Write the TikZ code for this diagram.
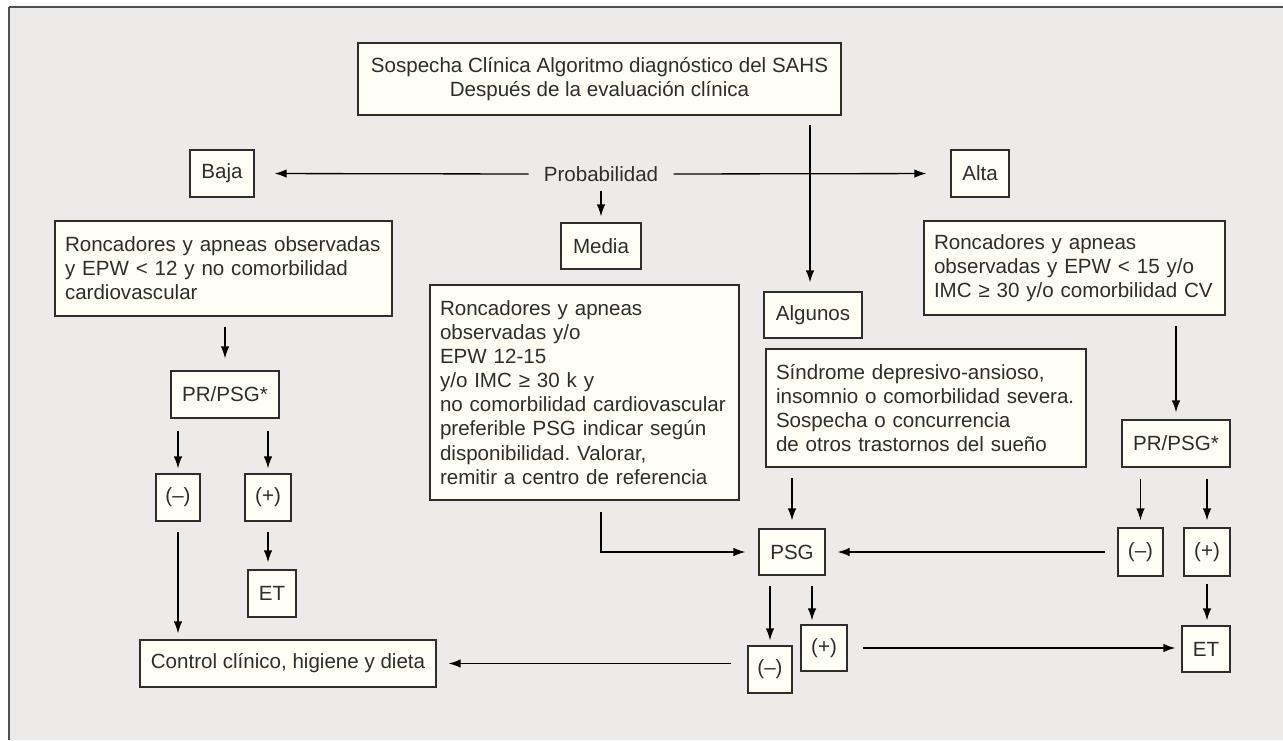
\documentclass[tikz,border=0pt]{standalone}
\usepackage{fontspec}
\setmainfont{Liberation Sans}
\usetikzlibrary{arrows.meta,calc}
\definecolor{panelgrey}{RGB}{236,235,234}
\definecolor{boxcream}{RGB}{255,255,245}
\definecolor{inkgrey}{RGB}{45,45,45}
\definecolor{framegrey}{RGB}{80,80,80}
\tikzset{
  box/.style={draw=inkgrey, fill=boxcream, line width=0.7pt, inner xsep=0.15cm, inner ysep=0cm, text=inkgrey, align=center},
  textbox/.style={box, inner xsep=0.2cm, align=left},
  link/.style={-{Latex[length=0.24cm,width=0.17cm]}, line width=0.75pt, shorten <=0.2cm, shorten >=0.12cm},
}
\frenchspacing

\begin{document}
\begin{tikzpicture}[font=\fontsize{11.7}{13.7}\selectfont]
  \useasboundingbox (0,0) rectangle (25.66,14.8);
  \fill[panelgrey] (0.18,0) rectangle (25.66,14.654);
  \draw[framegrey, line width=1.2pt] (0.18,14.654) -- (25.66,14.654);
  \draw[framegrey, line width=0.6pt] (0.18,0) -- (0.18,14.654);

  \node[box, minimum width=9.66cm, minimum height=1.44cm] (title) at (11.99,13.22) {Sospecha Clínica Algoritmo diagnóstico del SAHS\\Después de la evaluación clínica};
  \node[inner xsep=0.3cm, text=inkgrey] (prob) at (12.02,11.32) {Probabilidad};
  \node[box, minimum width=1.28cm, minimum height=0.94cm] (baja) at (4.44,11.33) {Baja};
  \node[box, minimum width=1.16cm, minimum height=0.94cm] (alta) at (19.6,11.33) {Alta};
  \node[box, minimum width=1.6cm, minimum height=0.92cm] (media) at (12.02,9.88) {Media};

  % baja
  \node[textbox, text width=6.34cm, minimum height=1.9cm] (low) at (4.47,9.43) {Roncadores y apneas observadas\\y EPW < 12 y no comorbilidad\\cardiovascular};
  \node[box, minimum width=2.16cm, minimum height=0.94cm] (prl) at (4.5,6.91) {PR/PSG*};
  \node[box, minimum width=0.88cm, minimum height=0.94cm] (minl) at (3.56,4.85) {(–)};
  \node[box, minimum width=0.92cm, minimum height=0.94cm] (plusl) at (5.36,4.85) {(+)};
  \node[box, minimum width=0.96cm, minimum height=0.94cm] (etl) at (5.44,2.93) {ET};
  \node[box, minimum width=5.92cm, minimum height=0.94cm] (ctrl) at (5.76,1.53) {Control clínico, higiene y dieta};

  % media y algunos
  \node[textbox, text width=5.78cm, minimum height=4.3cm] (mid) at (11.69,6.95) {Roncadores y apneas\\observadas y/o\\EPW 12-15\\y/o IMC ≥ 30 k y\\no comorbilidad cardiovascular\\preferible PSG indicar según\\disponibilidad. Valorar,\\remitir a centro de referencia};
  \node[box, minimum width=1.96cm, minimum height=0.92cm] (alg) at (16.26,8.5) {Algunos};
  \node[textbox, text width=6.0cm, minimum height=2.36cm] (sind) at (18.52,6.64) {Síndrome depresivo-ansioso,\\insomnio o comorbilidad severa.\\Sospecha o concurrencia\\de otros trastornos del sueño};
  \node[box, minimum width=1.32cm, minimum height=0.92cm] (psg) at (15.84,3.76) {PSG};
  \node[box, minimum width=0.88cm, minimum height=0.94cm] (minb) at (15.4,1.41) {(–)};
  \node[box, minimum width=0.92cm, minimum height=0.92cm] (plusb) at (16.48,1.84) {(+)};

  % alta
  \node[textbox, text width=5.62cm, minimum height=1.88cm] (high) at (21.49,9.44) {Roncadores y apneas\\observadas y EPW < 15 y/o\\IMC ≥ 30 y/o comorbilidad CV};
  \node[box, minimum width=2.16cm, minimum height=0.94cm] (prr) at (23.52,5.93) {PR/PSG*};
  \node[box, minimum width=0.9cm, minimum height=0.96cm] (minr) at (22.81,3.76) {(–)};
  \node[box, minimum width=0.92cm, minimum height=0.96cm] (plusr) at (24.14,3.76) {(+)};
  \node[box, minimum width=0.96cm, minimum height=0.92cm] (etr) at (24.12,1.82) {ET};

  \draw[link, shorten <=0cm, shorten >=0.4cm] (prob.west) -- (baja.east);
  \draw[link, shorten <=0cm, shorten >=0.48cm] (prob.east) -- (alta.west);
  \draw[link, shorten <=0.06cm] (prob.south) -- (media.north);
  \draw[link, shorten <=0.18cm, shorten >=0.18cm] ([xshift=-0.06cm]alg.north |- title.south) -- ([xshift=-0.06cm]alg.north);

  \draw[link, shorten >=0.24cm] (prl |- low.south) -- (prl.north);
  \draw[link, shorten <=0.24cm, shorten >=0.1cm] (minl |- prl.south) -- (minl.north);
  \draw[link, shorten <=0.24cm, shorten >=0.1cm] (plusl |- prl.south) -- (plusl.north);
  \draw[link] (minl.south) -- (minl.south |- ctrl.north);
  \draw[link, shorten >=0.14cm] (plusl.south) -- (plusl.south |- etl.north);

  \draw[link, shorten <=0.22cm, shorten >=0.26cm] (media |- mid.south) |- (psg.west);
  \draw[link, shorten >=0.16cm] (psg |- sind.south) -- (psg.north);
  \draw[link, shorten >=0.14cm] (prr |- high.south) -- (prr.north);
  \draw[link, shorten <=0.22cm, shorten >=0.14cm] (minr |- prr.south) -- (minr.north);
  \draw[link, shorten <=0.22cm, shorten >=0.14cm] (plusr |- prr.south) -- (plusr.north);
  \draw[link, shorten <=0.24cm, shorten >=0.24cm] (minr.west) -- (psg.east);
  \draw[link, shorten <=0.14cm, shorten >=0.1cm] (plusr.south) -- (plusr.south |- etr.north);

  \draw[link, shorten >=0.1cm] (minb |- psg.south) -- (minb.north);
  \draw[link, shorten >=0.08cm] ([xshift=-0.24cm]plusb.north |- psg.south) -- ([xshift=-0.24cm]plusb.north);
  \draw[link, shorten <=0.32cm, shorten >=0.24cm] (minb.west |- ctrl) -- (ctrl.east);
  \draw[link, shorten <=0.3cm, shorten >=0.12cm] (plusb.east) -- (plusb.east -| etr.west);
\end{tikzpicture}
\end{document}
